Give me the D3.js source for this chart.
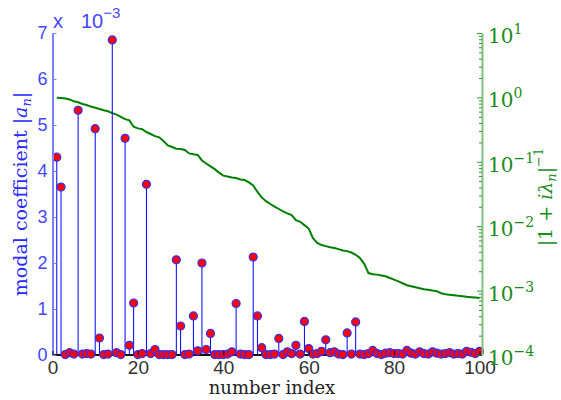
<!DOCTYPE html>
<html><head><meta charset="utf-8">
<script src="https://cdn.jsdelivr.net/npm/d3@7"></script>
<style>body{margin:0;background:#fff}</style>
</head><body><svg id="c" width="561" height="400"></svg>
<script>
const modeIndex = d3.range(1, 101);
// modal coefficients |a_n| in units of 1e-3
const coeffValues = [
  4.30, 3.65, 0.01, 0.05, 0.02, 5.32, 0.02, 0.03, 0.02, 4.92,
  0.37, 0.01, 0.02, 6.85, 0.05, 0.01, 4.71, 0.21, 1.13, 0.01,
  0.03, 3.71, 0.03, 0.12, 0.01, 0.01, 0.01, 0.01, 2.07, 0.63,
  0.01, 0.02, 0.85, 0.09, 2.00, 0.12, 0.47, 0.01, 0.01, 0.01,
  0.02, 0.07, 1.12, 0.02, 0.01, 0.01, 2.13, 0.85, 0.16, 0.01,
  0.01, 0.02, 0.36, 0.01, 0.07, 0.03, 0.21, 0.02, 0.73, 0.14,
  0.02, 0.03, 0.08, 0.33, 0.05, 0.07, 0.02, 0.01, 0.48, 0.02,
  0.72, 0.02, 0.01, 0.03, 0.10, 0.03, 0.01, 0.04, 0.05, 0.03,
  0.03, 0.02, 0.10, 0.04, 0.02, 0.07, 0.03, 0.02, 0.07, 0.04,
  0.02, 0.03, 0.05, 0.02, 0.03, 0.02, 0.08, 0.06, 0.03, 0.08
];
// |1 + i lambda_n|^-1
const ampValues = [
  0.99, 0.98, 0.96, 0.93, 0.87, 0.84, 0.79, 0.76, 0.72, 0.69,
  0.66, 0.63, 0.61, 0.57, 0.54, 0.50, 0.46, 0.44, 0.35, 0.33,
  0.32, 0.29, 0.27, 0.25, 0.24, 0.21, 0.18, 0.17, 0.16, 0.158,
  0.153, 0.135, 0.131, 0.128, 0.105, 0.094, 0.085, 0.077, 0.068, 0.061,
  0.059, 0.057, 0.056, 0.053, 0.052, 0.048, 0.043, 0.034, 0.028, 0.0245,
  0.0221, 0.0202, 0.0185, 0.0170, 0.0158, 0.0149, 0.0124, 0.0117, 0.0104, 0.0092,
  0.0065, 0.0055, 0.0051, 0.0049, 0.0047, 0.0046, 0.0044, 0.0042, 0.0041, 0.0039,
  0.0036, 0.0032, 0.0026, 0.00187, 0.00180, 0.00177, 0.00172, 0.00167, 0.00157, 0.00148,
  0.00139, 0.00130, 0.00121, 0.00117, 0.00113, 0.00109, 0.00105, 0.00103, 0.00100, 0.00098,
  0.00091, 0.00088, 0.00086, 0.00085, 0.00083, 0.00082, 0.00080, 0.00079, 0.00078, 0.00077
];
const leftTicks = [0, 1, 2, 3, 4, 5, 6, 7];
const bottomTicks = [0, 20, 40, 60, 80, 100];
const rightTickExps = [-4, -3, -2, -1, 0, 1];

const svg = d3.select("#c");
const xL = 52.5, xR = 482, yT = 33, yB = 355;
const x = d3.scaleLinear().domain([0, 100]).range([52.5, 479.5]);
const yL = d3.scaleLinear().domain([0, 7]).range([yB, yT]);
const yR = d3.scaleLog().domain([1e-4, 10]).range([yB, yT]);

const blueText = "#4646ff", blueAxis = "#8080ff", green = "#008000", greenText = "#1a8c1a", greenAxis = "#80c080";
const serif = "'DejaVu Serif', 'Liberation Serif', serif";
const sans = "'Liberation Sans', 'DejaVu Sans', sans-serif";

// green line
svg.append("path")
  .datum(modeIndex.map((n, i) => [n, ampValues[i]]))
  .attr("fill", "none").attr("stroke", green).attr("stroke-width", 2)
  .attr("d", d3.line().x(d => x(d[0])).y(d => yR(d[1])));

// stems
svg.append("g").selectAll("line").data(modeIndex).join("line")
  .attr("x1", n => x(n)).attr("x2", n => x(n))
  .attr("y1", yL(0)).attr("y2", (n, i) => yL(coeffValues[i]))
  .attr("stroke", "#0000ff").attr("stroke-width", 1);

// baseline
svg.append("line").attr("x1", xL).attr("x2", xR).attr("y1", yL(0)).attr("y2", yL(0))
  .attr("stroke", "#111").attr("stroke-width", 2);

// markers
svg.append("g").selectAll("circle").data(modeIndex).join("circle")
  .attr("cx", n => x(n)).attr("cy", (n, i) => yL(coeffValues[i]))
  .attr("r", 4).attr("fill", "#ff0000").attr("stroke", "#3030ff").attr("stroke-width", 1.2);

// left axis
const gL = svg.append("g").attr("transform", `translate(${xL},0)`)
  .call(d3.axisLeft(yL).tickValues(leftTicks).tickSizeInner(-4).tickSizeOuter(0).tickPadding(5).tickFormat(d3.format("d")));
gL.select(".domain").attr("stroke", blueAxis).attr("stroke-width", 2);
gL.selectAll(".tick line").attr("stroke", blueAxis);
gL.selectAll("text").attr("fill", blueText).attr("font-family", sans).attr("font-size", 18);

// exponent label
const ex = svg.append("text").attr("x", 53).attr("y", 28).attr("fill", blueText)
  .attr("font-family", sans).attr("font-size", 20);
ex.append("tspan").text("x");
ex.append("tspan").attr("x", 81).text("10");
ex.append("tspan").attr("dy", -10).attr("font-size", 15).text("−3");

// bottom axis
const gB = svg.append("g").attr("transform", `translate(0,${yB})`)
  .call(d3.axisBottom(x).tickValues(bottomTicks).tickSizeInner(-4).tickSizeOuter(0).tickPadding(6));
gB.select(".domain").remove();
gB.selectAll(".tick line").attr("stroke", "#111");
gB.selectAll("text").attr("fill", "#333").attr("font-family", sans).attr("font-size", 19);

// right axis
const minorTicks = yR.ticks();
const gR = svg.append("g").attr("transform", `translate(${xR},0)`)
  .call(d3.axisRight(yR).tickValues(minorTicks).tickSizeInner(-3).tickSizeOuter(0).tickFormat(() => ""));
gR.select(".domain").attr("stroke", greenAxis).attr("stroke-width", 2);
gR.selectAll(".tick line").attr("stroke", green).attr("stroke-width", 0.8)
  .attr("x2", d => (Math.abs(Math.log10(d) - Math.round(Math.log10(d))) < 1e-9 ? -5 : -3));
const rl = svg.append("g").selectAll("text").data(rightTickExps).join("text")
  .attr("x", xR + 6).attr("y", e => yR(Math.pow(10, e)) + 10)
  .attr("fill", greenText).attr("font-family", serif).attr("font-size", 20);
rl.append("tspan").text("10");
rl.append("tspan").attr("dy", -9).attr("font-size", 14).text(e => e < 0 ? "−" + (-e) : String(e));

// axis titles
const lt = svg.append("text").attr("transform", `translate(27,${(yT + yB) / 2}) rotate(-90)`)
  .attr("text-anchor", "middle").attr("fill", "#2a2aff").attr("font-family", serif).attr("font-size", 19);
lt.append("tspan").text("modal coefficient |");
lt.append("tspan").attr("font-style", "italic").text("a");
lt.append("tspan").attr("font-style", "italic").attr("font-size", 13).attr("dy", 4).text("n");
lt.append("tspan").attr("dy", -4).text("|");

svg.append("text").attr("x", 272).attr("y", 394).attr("text-anchor", "middle")
  .attr("fill", "#222").attr("font-family", serif).attr("font-size", 18).text("number index");

const rt = svg.append("text").attr("transform", `translate(552,${(yT + yB) / 2 + 3}) rotate(-90)`)
  .attr("text-anchor", "middle").attr("fill", greenText).attr("font-family", serif).attr("font-size", 19);
rt.append("tspan").text("|1 + ");
rt.append("tspan").attr("font-style", "italic").text("iλ");
rt.append("tspan").attr("font-style", "italic").attr("font-size", 13).attr("dy", 4).text("n");
rt.append("tspan").attr("dy", -4).text("|");
rt.append("tspan").attr("dy", -9).attr("font-size", 13).text("−1");
</script></body></html>
